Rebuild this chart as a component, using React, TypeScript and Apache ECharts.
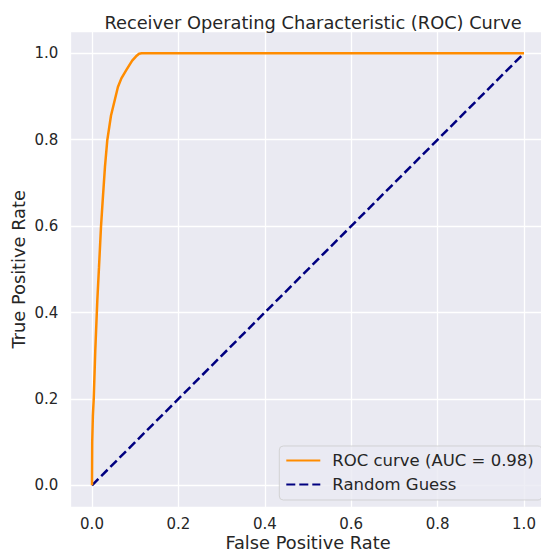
import React, { useEffect, useRef } from "react";
import * as echarts from "echarts";

const fpr = [0, 0.0005, 0.002, 0.004, 0.0076, 0.0123, 0.0162, 0.0208, 0.0248, 0.03, 0.0354, 0.044, 0.053, 0.06, 0.068, 0.08, 0.093, 0.102, 0.109, 0.115, 1.0];
const tpr = [0, 0.1, 0.16, 0.2, 0.3125, 0.428, 0.505, 0.598, 0.66, 0.737, 0.799, 0.856, 0.893, 0.922, 0.942, 0.962, 0.983, 0.993, 0.999, 1.0, 1.0];
const guessX = [0, 1];
const guessY = [0, 1];
const rocName = "ROC curve (AUC = 0.98)";
const guessName = "Random Guess";
const titleText = "Receiver Operating Characteristic (ROC) Curve";
const xName = "False Positive Rate";
const yName = "True Positive Rate";

const TEXT = "#262626";
const FONT = "DejaVu Sans";

export default function App() {
  const ref = useRef<HTMLDivElement>(null);
  useEffect(() => {
    if (!ref.current) return;
    const chart = echarts.init(ref.current, undefined, { renderer: "svg" });
    const axisCommon = {
      type: "value" as const,
      min: -0.05,
      max: 1.05,
      splitNumber: 5,
      axisLine: { show: false },
      axisTick: { show: false },
      splitLine: { show: true, lineStyle: { color: "#ffffff", width: 1.3 } },
      nameLocation: "middle" as const,
      nameMoveOverlap: false,
      nameTextStyle: { color: TEXT, fontSize: 17.8, fontFamily: FONT, lineHeight: 18 },
    };
    chart.setOption({
      animation: false,
      textStyle: { fontFamily: FONT, color: TEXT },
      title: {
        text: titleText,
        left: 308,
        textAlign: "center",
        top: 8,
        textStyle: { color: TEXT, fontSize: 17.8, fontWeight: "normal", fontFamily: FONT },
      },
      grid: {
        left: 70.4,
        top: 31.7,
        width: 475.2,
        height: 475.2,
        show: true,
        backgroundColor: "#EAEAF2",
        borderWidth: 0,
        containLabel: false,
        outerBoundsMode: "none",
      },
      xAxis: {
        ...axisCommon,
        name: xName,
        nameGap: 26.5,
        axisLabel: {
          color: TEXT,
          fontSize: 15,
          lineHeight: 15,
          fontFamily: FONT,
          margin: 9.6,
          showMinLabel: false,
          showMaxLabel: false,
          formatter: (v: number) => v.toFixed(1),
        },
      },
      yAxis: {
        ...axisCommon,
        name: yName,
        nameGap: 42.5,
        axisLabel: {
          color: TEXT,
          fontSize: 15,
          fontFamily: FONT,
          margin: 12,
          showMinLabel: false,
          showMaxLabel: false,
          formatter: (v: number) => v.toFixed(1),
        },
      },
      legend: {
        orient: "vertical",
        left: 279.3,
        top: 446,
        padding: [6, 8, 7, 6],
        itemGap: 7,
        itemWidth: 34,
        itemHeight: 14,
        backgroundColor: "rgba(234,234,242,0.8)",
        borderColor: "rgba(204,204,204,0.8)",
        borderWidth: 1,
        borderRadius: 4,
        itemStyle: { opacity: 0 },
        textStyle: { color: TEXT, fontSize: 16.5, fontFamily: FONT, padding: [0, 0, 0, 7] },
        data: [rocName, guessName],
      },
      series: [
        {
          name: rocName,
          type: "line",
          data: fpr.map((x, i) => [x, tpr[i]]),
          symbol: "none",
          lineStyle: { color: "#FF8C00", width: 2.5 },
          itemStyle: { color: "#FF8C00" },
          z: 3,
        },
        {
          name: guessName,
          type: "line",
          data: guessX.map((x, i) => [x, guessY[i]]),
          symbol: "none",
          lineStyle: { color: "#000080", width: 2.5, type: [9, 4] },
          itemStyle: { color: "#000080" },
          z: 2,
        },
      ],
    });
    return () => chart.dispose();
  }, []);
  return (
    <div
      ref={ref}
      style={{ position: "fixed", left: 0, top: 0, width: 541, height: 553, background: "#ffffff" }}
    />
  );
}
